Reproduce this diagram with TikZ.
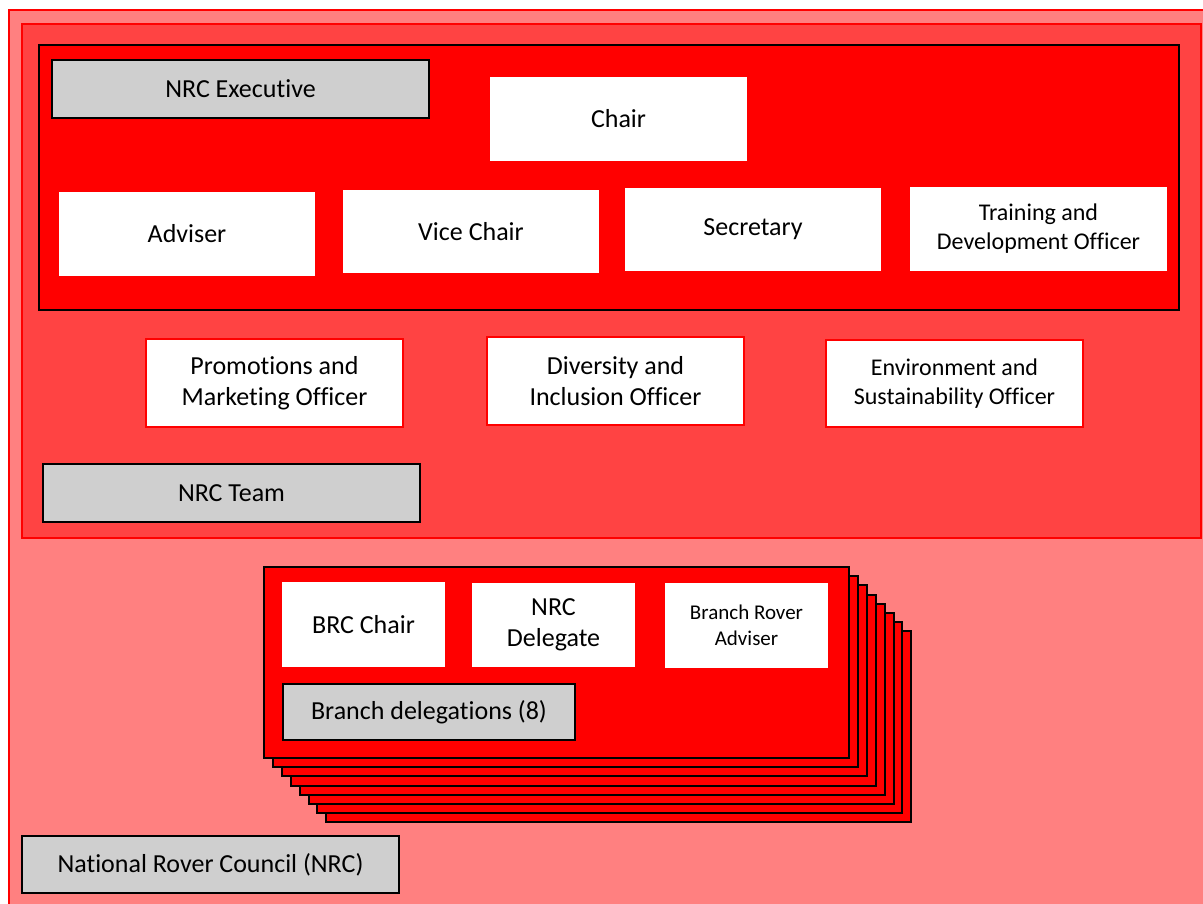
\documentclass[tikz,border=0pt]{standalone}
\usepackage{fontspec}
\setmainfont{Carlito}[Ligatures=NoCommon]
\definecolor{outerbg}{HTML}{FF8080}
\definecolor{teambg}{HTML}{FF4343}
\definecolor{boxgray}{HTML}{CFCFCF}
\newcommand{\rbox}[7]{\node[#1,minimum width={#4-#2},minimum height={#5-#3}] (#6) at (#2,#3) {#7};}
\begin{document}
\begin{tikzpicture}[x=1pt,y=-1pt,
  base/.style={anchor=north west, inner sep=0pt, outer sep=0pt, align=center, font=\fontsize{26}{31.5}\selectfont},
  tagbox/.style={base, fill=boxgray, draw=black, line width=2.5pt},
  role/.style={base, fill=white},
  teamrole/.style={base, fill=white, draw=red, line width=2pt},
  small/.style={font=\fontsize{24}{29}\selectfont},
  smaller/.style={font=\fontsize{21}{26}\selectfont},
  outergroup/.style={anchor=north west, inner sep=0pt, outer sep=0pt, fill=outerbg, draw=red, line width=2pt},
  teamgroup/.style={anchor=north west, inner sep=0pt, outer sep=0pt, fill=teambg, draw=red, line width=2pt},
  execgroup/.style={anchor=north west, inner sep=0pt, outer sep=0pt, fill=red, draw=black, line width=2.5pt},
  card/.style={anchor=north west, inner sep=0pt, outer sep=0pt, fill=red, draw=black, line width=2pt}
]
\useasboundingbox (0,0) rectangle (1203,903);
\clip (0,0) rectangle (1203,903);

% outer council
\rbox{outergroup}{8.5}{9.5}{1215}{915}{council}{}
% NRC team
\rbox{teamgroup}{22}{24}{1201}{538}{team}{}
% NRC executive
\rbox{execgroup}{39}{45}{1179}{310}{exec}{}

\rbox{tagbox}{52}{60}{429}{118}{execlabel}{NRC Executive}
\rbox{role}{490}{77}{747}{161}{chair}{Chair}
\rbox{role}{59}{192}{315}{276}{adviser}{Adviser}
\rbox{role}{343}{190}{599}{273}{vicechair}{Vice Chair}
\rbox{role}{625}{188}{881}{271}{secretary}{Secretary}
\rbox{role,small}{910}{187}{1167}{271}{training}{Training and\\Development Officer}

\rbox{teamrole}{146}{339}{403}{427}{promo}{Promotions and\\Marketing Officer}
\rbox{teamrole}{487}{337}{744}{425}{diversity}{Diversity and\\Inclusion Officer}
\rbox{teamrole,small}{826}{340}{1083}{427}{environment}{Environment and\\Sustainability Officer}

\rbox{tagbox}{43}{464}{420}{522}{teamlabel}{NRC Team}

% branch delegation stack (8 cards)
\foreach \k in {7,6,...,1}{
  \node[card, minimum width=585, minimum height=191] (card\k) at ({264+8.9*\k},{567+9.2*\k}) {};
}
\node[card, line width=2.5pt, minimum width=585, minimum height=191] (card0) at (264,567) {};

\rbox{role}{282}{582}{445}{667}{brcchair}{BRC Chair}
\rbox{role}{472}{583}{635}{667}{delegate}{NRC\\Delegate}
\rbox{role,smaller}{665}{583}{828}{668}{branchadviser}{Branch Rover\\Adviser}
\rbox{tagbox}{283}{684}{575}{740}{branchlabel}{Branch delegations (8)}

\rbox{tagbox}{22}{836}{399}{893}{councillabel}{National Rover Council (NRC)}
\end{tikzpicture}
\end{document}
